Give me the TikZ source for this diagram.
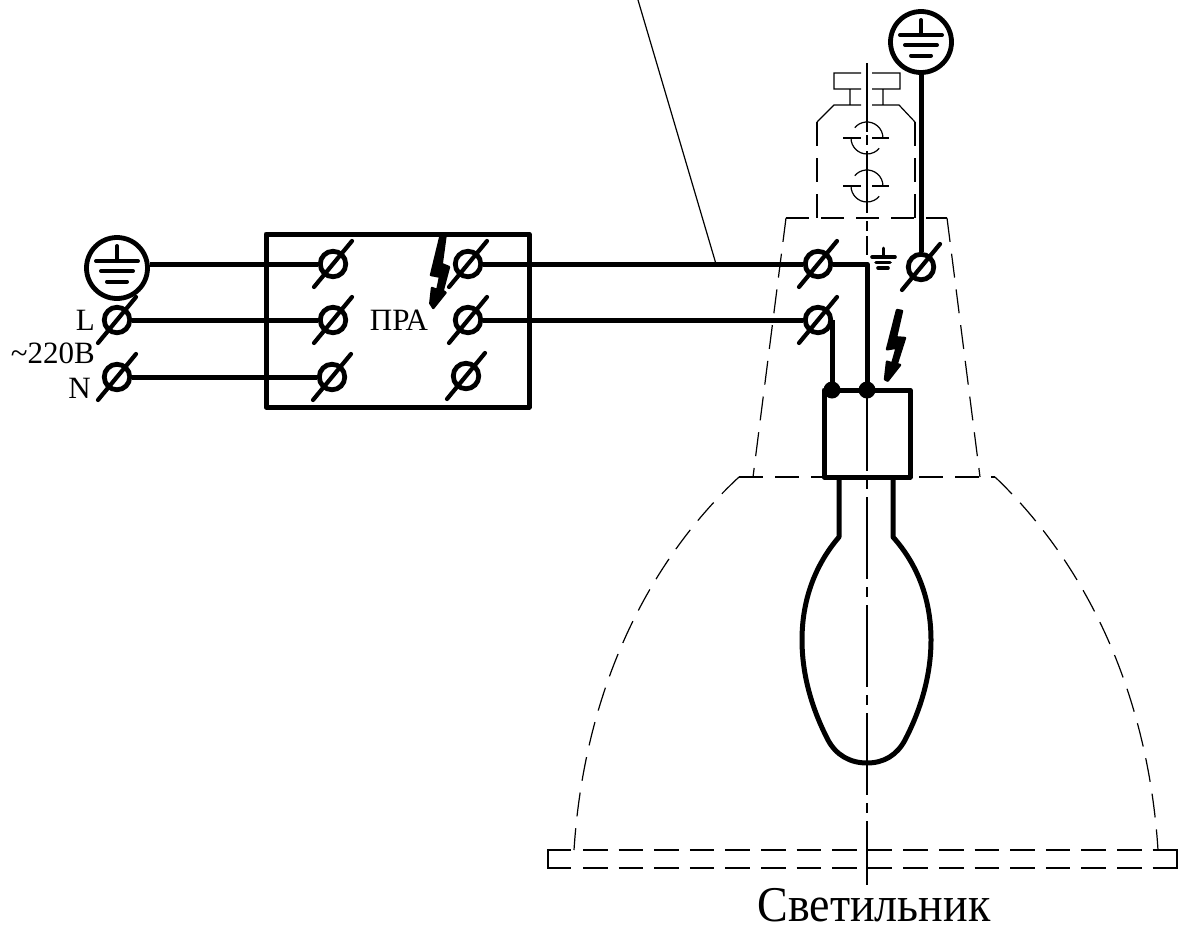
\documentclass[tikz,border=0pt]{standalone}
\usepackage{fontspec}
\setmainfont{Liberation Serif}
\usetikzlibrary{calc}
\tikzset{
 x=1pt,y=-1pt,
 wire/.style={line width=5pt,line join=round},
 thin line/.style={line width=1.2pt},
 dash line/.style={line width=1.2pt,dash pattern=on 24pt off 12pt},
 base dash/.style={line width=1.2pt,dash pattern=on 24.6pt off 11pt},
 center line/.style={line width=1.2pt},
 terminal/.style={circle,draw,line width=4.8pt,inner sep=0pt,minimum size=25.5pt},
 earthsym/.style={circle,draw,fill=white,line width=4.8pt,inner sep=0pt,minimum size=61pt},
 txt/.style={inner sep=0pt,font=\fontsize{31}{31}\selectfont},
 bolt/.style={fill,draw,line width=2.4pt,line join=round},
}
\newcommand{\slashbar}[1]{\draw[line width=4.2pt,line cap=round] ($(#1)+(-19,23)$) -- ($(#1)+(19,-23)$);}
\newcommand{\earthlines}[1]{
 \draw[line width=4pt,line cap=round] ($(#1)+(0,-22)$) -- ($(#1)+(0,-7)$)
   ($(#1)+(-21,-7)$) -- ($(#1)+(21,-7)$)
   ($(#1)+(-16,3)$) -- ($(#1)+(16,3)$)
   ($(#1)+(-10,13.5)$) -- ($(#1)+(10,13.5)$);}
\begin{document}
\begin{tikzpicture}
\useasboundingbox (0,0) rectangle (1180,932);
\fill[white] (0,0) rectangle (1180,932);
% lamp base
\draw[thin line] (571,850) -- (548,850) -- (548,868) -- (571,868);
\draw[thin line] (1155,850) -- (1177,850) -- (1177,868) -- (1155,868);
\draw[base dash] (583,850) -- (1177,850);
\draw[base dash] (583,868) -- (1177,868);
% reflector
\coordinate (shL) at (739,477);
\coordinate (shR) at (995,477);
\draw[dash line] (shL) .. controls (655,555) and (585,680) .. (574,850);
\draw[dash line] (shR) .. controls (1077,555) and (1147,680) .. (1158,850);
\draw[dash line] (shL) -- (shR);
% shade
\draw[dash line] (786,218) -- (753,477);
\draw[dash line] (947,218) -- (980,477);
\draw[line width=1.2pt,dash pattern=on 23.3pt off 11.7pt] (786,218) -- (947,218);
% cap
\draw[line width=1.2pt,dash pattern=on 24pt off 12pt] (817,122) -- (817,218);
\draw[line width=1.2pt,dash pattern=on 24pt off 12pt] (915,122) -- (915,218);
\draw[thin line] (861,73) -- (834,73) -- (834,89) -- (861,89)
  (872,73) -- (900,73) -- (900,89) -- (872,89)
  (850,89) -- (850,105) (883,89) -- (883,105)
  (861,105) -- (834,105) -- (817,122) (872,105) -- (899,105) -- (915,122);
% screws
\foreach \c in {138,186}{
  \draw[thin line] (843,\c) -- (861,\c) (872,\c) -- (889,\c);
  \draw[thin line] ($(854.7,\c)+(0,-10.3)$) arc[start angle=140,end angle=0,radius=16pt];
  \draw[thin line] (851,\c) arc[start angle=180,end angle=320,radius=16pt];
}
% axis
\draw[center line,dash pattern=on 69pt off 3pt on 10pt off 6pt on 62pt off 8pt on 10pt off 5pt] (867,63) -- (867,237);
\draw[center line,dash pattern=on 82pt off 8pt on 10pt off 8pt,dash phase=64pt] (867,237) -- (867,885);
% leader
\coordinate (lead top) at (638,0);
\coordinate (lead end) at (716,264);
\draw[line width=1.2pt] (lead top) -- (lead end);
% PRA box
\draw[wire] (266,234) rectangle (529,407);
% terminals
\foreach \n/\x/\y in {tl/117/320, tn/117/377, a1/333/264, a2/333/320, a3/332/377, b1/468/264, b2/468/320, b3/466/376, c1/818/264, c2/818/320, c3/921/267}{
  \node[terminal] (\n) at (\x,\y) {};
  \slashbar{\n}
}
% earth symbols
\node[earthsym] (e1) at (117,268) {};
\earthlines{e1}
\node[earthsym] (e2) at (921,42) {};
\earthlines{e2}
% wires
\draw[wire] (e1.east |- a1.west) -- (a1.west);
\draw[wire] (tl) -- (a2);
\draw[wire] (tn) -- (a3);
\draw[wire] (b1) -- (c1);
\draw[wire] (b2) -- (c2);
\draw[wire] (e2) -- (c3);
\coordinate (d1) at (832,390);
\coordinate (d2) at (867,390);
\draw[wire] (c1.east) -| (d2);
\draw[wire] (d1 |- c2.east) -- (d1);
% lamp socket
\draw[wire] (824,390) rectangle (910,477);
\fill (d1) circle (8.5pt);
\fill (d2) circle (8.5pt);
% bulb
\draw[wire] (839,477) -- (839,537) .. controls (815,565) and (802,600) .. (802,640)
  .. controls (802,680) and (815,715) .. (828,740)
  .. controls (836,755) and (850,763) .. (867,763)
  .. controls (884,763) and (897,755) .. (905,740)
  .. controls (918,715) and (931,680) .. (931,640)
  .. controls (931,600) and (918,565) .. (893,537) -- (893,477);
% small earth
\draw[line width=3pt,line cap=round] (883,248) -- (883,257);
\draw[line width=3.6pt,line cap=round] (872,257) -- (895,257) (876,262.5) -- (890,262.5) (878,268) -- (888,268);
% lightning
\path[bolt] (440.5,236) -- (445.5,236) -- (441.7,264) -- (449,267) -- (442.7,290.7) -- (445.5,292.7) -- (433.3,308) -- (430.3,303.3) -- (432,288) -- (437.3,290) -- (440,276.7) -- (431,275) -- cycle;
\path[bolt] (897,310) -- (902,311) -- (896,337.3) -- (905,338) -- (896.7,364) -- (900,365) -- (887.7,380.7) -- (885,379.3) -- (887,361.7) -- (892.3,363.3) -- (896.7,347.7) -- (887,349.3) -- cycle;
% labels
\node[txt,anchor=base] (pra) at (399,330) {ПРА};
\node[txt,anchor=base east] (lL) at (95,330) {L};
\node[txt,anchor=base east] (lV) at (95,363) {{\char"7E}220В};
\node[txt,anchor=base east] (lN) at (91,398) {N};
\node[inner sep=0pt,anchor=base,xscale=.92,transform shape,font=\fontsize{50}{50}\selectfont] (cap) at (874,921) {Светильник};
\end{tikzpicture}
\end{document}
